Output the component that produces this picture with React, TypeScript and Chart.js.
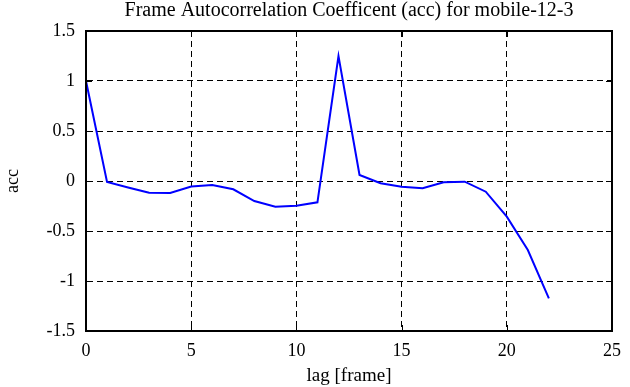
import React, { useEffect, useRef } from "react";
import { Chart, registerables } from "chart.js";

Chart.register(...registerables);

const titleText = "Frame Autocorrelation Coefficent (acc) for mobile-12-3";
const xLabel = "lag [frame]";
const yLabel = "acc";
const lags = [0, 1, 2, 3, 4, 5, 6, 7, 8, 9, 10, 11, 12, 13, 14, 15, 16, 17, 18, 19, 20, 21, 22];
const acc = [1.0, -0.01, -0.065, -0.117, -0.12, -0.055, -0.04, -0.083, -0.2, -0.257, -0.247, -0.213, 1.25, 0.06, -0.023, -0.057, -0.073, -0.013, -0.007, -0.107, -0.357, -0.69, -1.173];

const FONT = "'Liberation Serif', 'DejaVu Serif', serif";

const framePlugin = {
  id: "frame",
  afterDraw(chart: any) {
    const { ctx, chartArea } = chart;
    const { left, right, top, bottom } = chartArea;
    const xs = chart.scales.x;
    const ys = chart.scales.y;
    ctx.save();
    ctx.strokeStyle = "#000";
    ctx.lineWidth = 1;
    ctx.setLineDash([]);
    const tl = 6;
    ctx.beginPath();
    xs.ticks.forEach((t: any) => {
      const px = Math.round(xs.getPixelForValue(t.value)) + 0.5;
      ctx.moveTo(px, top);
      ctx.lineTo(px, top + tl);
      ctx.moveTo(px, bottom);
      ctx.lineTo(px, bottom - tl);
    });
    ys.ticks.forEach((t: any) => {
      const py = Math.round(ys.getPixelForValue(t.value)) + 0.5;
      ctx.moveTo(left, py);
      ctx.lineTo(left + tl, py);
      ctx.moveTo(right, py);
      ctx.lineTo(right - tl, py);
    });
    ctx.stroke();
    ctx.lineWidth = 2;
    ctx.strokeRect(left, top, right - left, bottom - top);
    ctx.fillStyle = "#000";
    ctx.font = "20px " + FONT;
    ctx.textAlign = "center";
    ctx.textBaseline = "alphabetic";
    ctx.fillText(titleText, (left + right) / 2, 16);
    ctx.restore();
  },
};

export default function App() {
  const ref = useRef<HTMLCanvasElement>(null);
  useEffect(() => {
    document.body.style.margin = "0";
    const chart = new Chart(ref.current!, {
      type: "line",
      data: {
        datasets: [
          {
            data: lags.map((x, i) => ({ x, y: acc[i] })),
            borderColor: "#0000ff",
            borderWidth: 2,
            pointRadius: 0,
            tension: 0,
            fill: false,
          },
        ],
      },
      options: {
        animation: false,
        responsive: false,
        maintainAspectRatio: false,
        layout: { padding: { top: 31, right: 17, left: 0, bottom: 0 } },
        plugins: { legend: { display: false }, tooltip: { enabled: false }, title: { display: false } },
        scales: {
          x: {
            type: "linear",
            min: 0,
            max: 25,
            ticks: { stepSize: 5, color: "#000", font: { family: FONT, size: 18 }, padding: 9, callback: (v: any) => String(Number(v)) },
            grid: { color: "#000", lineWidth: 1, drawTicks: false },
            border: { display: true, color: "#000", width: 2, dash: [6, 4] },
            title: { display: true, text: xLabel, color: "#000", font: { family: FONT, size: 19 }, padding: { top: 2, bottom: 0 } },
            afterFit(s: any) {
              s.height = 56;
            },
          },
          y: {
            type: "linear",
            min: -1.5,
            max: 1.5,
            ticks: { stepSize: 0.5, color: "#000", font: { family: FONT, size: 18 }, padding: 11, callback: (v: any) => String(Number(v)) },
            grid: { color: "#000", lineWidth: 1, drawTicks: false },
            border: { display: true, color: "#000", width: 2, dash: [6, 4] },
            title: { display: true, text: yLabel, color: "#000", font: { family: FONT, size: 18 }, padding: { top: 2, bottom: 0 } },
            afterFit(s: any) {
              s.width = 86;
            },
          },
        },
      },
      plugins: [framePlugin],
    });
    return () => chart.destroy();
  }, []);
  return (
    <div style={{ width: 630, height: 387, background: "#fff" }}>
      <canvas ref={ref} width={630} height={387} style={{ display: "block" }} />
    </div>
  );
}
